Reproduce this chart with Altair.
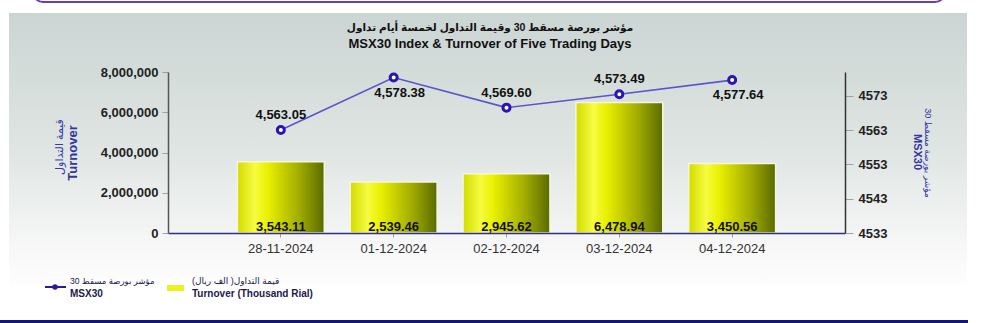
import altair as alt
import pandas as pd

# ---------------- data ----------------
dates = ["28-11-2024", "01-12-2024", "02-12-2024", "03-12-2024", "04-12-2024"]
turnover = [3543.11, 2539.46, 2945.62, 6478.94, 3450.56]   # thousand rial
msx = [4563.05, 4578.38, 4569.60, 4573.49, 4577.64]
left_ticks = [0, 2000000, 4000000, 6000000, 8000000]
right_ticks = [4533, 4543, 4553, 4563, 4573]

title_ar = "مؤشر بورصة مسقط 30 وقيمة التداول لخمسة أيام تداول"
title_en = "MSX30 Index & Turnover of Five Trading Days"
left_title = ["قيمة التداول", "Turnover"]
right_title = ["مؤشر بورصة مسقط 30", "MSX30"]
legend_msx = ["مؤشر بورصة مسقط 30", "MSX30"]
legend_tv = ["قيمة التداول( الف ريال)", "Turnover (Thousand Rial)"]

df = pd.DataFrame({"date": dates, "turnover": turnover, "msx": msx})
one = pd.DataFrame({"k": [0]})

# ---------------- layout ----------------
W, H = 677, 161
L, T = 168, 72
FONT = "Liberation Sans, Arial, DejaVu Sans"


def px(v):
    return alt.value(v - L)


def py(v):
    return alt.value(v - T)


x_enc = alt.X(
    "date:N",
    sort=dates,
    scale=alt.Scale(paddingInner=0.23, paddingOuter=0.615),
    axis=alt.Axis(
        title=None, labelAngle=0, labelFont=FONT, labelFontSize=13,
        labelColor="#333333", domainColor="#2e2e8e", domainWidth=1.5,
        tickColor="#a0a0a0", tickSize=4, labelPadding=5, zindex=1,
    ),
)

# ---------------- bars (left axis) ----------------
bar_base = alt.Chart(df).transform_calculate(tv="datum.turnover * 1000")
bar_grad = alt.Gradient(
    gradient="linear", x1=0, x2=1, y1=0, y2=0,
    stops=[
        alt.GradientStop(offset=0, color="#d4da00"),
        alt.GradientStop(offset=0.2, color="#f6fc40"),
        alt.GradientStop(offset=0.35, color="#eaf000"),
        alt.GradientStop(offset=0.7, color="#a4ae00"),
        alt.GradientStop(offset=1, color="#5a6a00"),
    ],
)
y_left = alt.Y(
    "tv:Q",
    scale=alt.Scale(domain=[0, 8000000]),
    axis=alt.Axis(
        title=None, values=left_ticks, format=",d", grid=False,
        labelFont=FONT, labelFontSize=13, labelFontWeight="bold",
        labelColor="#222222", domainColor="#555555", domainWidth=1.5,
        tickColor="#a0a0a0", tickSize=6, labelPadding=4, zindex=1,
    ),
)
bars = bar_base.mark_bar(
    color=bar_grad, stroke="#f6f6e0", strokeWidth=1.5
).encode(x=x_enc, y=y_left)
bar_text = bar_base.mark_text(
    font=FONT, fontSize=13, fontWeight="bold", color="#111111", dy=-6
).encode(x=x_enc, y=alt.datum(0), text=alt.Text("turnover:Q", format=",.2f"))
left_layer = alt.layer(bars, bar_text)

# ---------------- line (right axis) ----------------
y_right = alt.Y(
    "msx:Q",
    scale=alt.Scale(domain=[4533, 4580], zero=False),
    axis=alt.Axis(
        orient="right", title=None, values=right_ticks, format="d", grid=False,
        labelFont=FONT, labelFontSize=13, labelFontWeight="bold",
        labelColor="#222222", domainColor="#333333", domainWidth=1.5,
        tickColor="#a0a0a0", tickSize=8, labelPadding=5, zindex=1,
    ),
)
line = alt.Chart(df).mark_line(color="#5b54cc", strokeWidth=1.6).encode(x=x_enc, y=y_right)
pts = alt.Chart(df).mark_point(
    shape="circle", size=49, filled=True, fill="#ffffff", fillOpacity=1,
    stroke="#2c14b4", strokeWidth=3, opacity=1,
).encode(x=x_enc, y=y_right)
lab_style = dict(font=FONT, fontSize=13, fontWeight="bold", color="#111111")
lab_up = alt.Chart(df).transform_filter("datum.msx < 4575").mark_text(
    dy=-15, **lab_style
).encode(x=x_enc, y=y_right, text=alt.Text("msx:Q", format=",.2f"))
lab_dn = alt.Chart(df).transform_filter("datum.msx >= 4575").mark_text(
    dy=15, dx=6, **lab_style
).encode(x=x_enc, y=y_right, text=alt.Text("msx:Q", format=",.2f"))
right_layer = alt.layer(line, pts, lab_up, lab_dn)

# ---------------- decorations ----------------
panel_grad = alt.Gradient(
    gradient="linear", x1=0, x2=0, y1=0, y2=1,
    stops=[
        alt.GradientStop(offset=0, color="#cbd5d3"),
        alt.GradientStop(offset=0.5, color="#dfe5e3"),
        alt.GradientStop(offset=0.85, color="#f6f7f6"),
        alt.GradientStop(offset=1, color="#fdfdfd"),
    ],
)
base1 = alt.Chart(one)
panel = base1.mark_rect(color=panel_grad).encode(x=px(9), x2=px(967), y=py(13), y2=py(285))
topframe = base1.mark_rect(
    fill="#ffffff", stroke="#6a3db5", strokeWidth=2, cornerRadius=10
).encode(x=px(33), x2=px(945), y=py(-40), y2=py(2))
navy = base1.mark_rect(color="#14147a").encode(x=px(0), x2=px(968), y=py(320), y2=py(323))


def txt(s, x, y, size, bold=False, color="#111111", align="center", angle=0):
    kw = dict(text=s, font=FONT, fontSize=size, color=color, align=align, baseline="middle")
    if bold:
        kw["fontWeight"] = "bold"
    if angle:
        kw["angle"] = angle
    return base1.mark_text(**kw).encode(x=px(x), y=py(y))


titles = [
    txt(title_ar, 490, 28, 10.5, bold=True),
    txt(title_en, 490, 44, 13, bold=True),
    txt(left_title[0], 60, 147, 11, color="#3838a8", angle=270),
    txt(left_title[1], 73, 153, 13, bold=True, color="#3434a0", angle=270),
    txt(right_title[0], 928, 153, 9, color="#3838a8", angle=90),
    txt(right_title[1], 917, 152, 11, bold=True, color="#3434a0", angle=90),
]

legend = [
    base1.mark_rule(color="#2a1a9a", strokeWidth=2).encode(x=px(45), x2=px(66), y=py(287)),
    base1.mark_point(shape="circle", size=30, filled=True, color="#2a1a9a", opacity=1).encode(x=px(55), y=py(287)),
    txt(legend_msx[0], 70, 281, 8.5, color="#1a1a4a", align="left"),
    txt(legend_msx[1], 70, 294, 10, bold=True, color="#1a1a4a", align="left"),
    base1.mark_rect(color="#eef020").encode(x=px(167), x2=px(184), y=py(285), y2=py(291)),
    txt(legend_tv[0], 192, 281, 9, color="#1a1a4a", align="left"),
    txt(legend_tv[1], 192, 294, 10, bold=True, color="#1a1a4a", align="left"),
]

chart = alt.layer(
    panel, topframe, navy, *titles, *legend, left_layer, right_layer
).resolve_scale(y="independent").properties(
    width=W, height=H,
    padding={"left": L, "top": T, "right": 1000 - L - W, "bottom": 323 - T - H},
    autosize=alt.AutoSizeParams(type="none"),
    background="#ffffff",
).configure_view(stroke=None)

chart.save("out.html", embed_options={"renderer": "svg", "actions": False})
